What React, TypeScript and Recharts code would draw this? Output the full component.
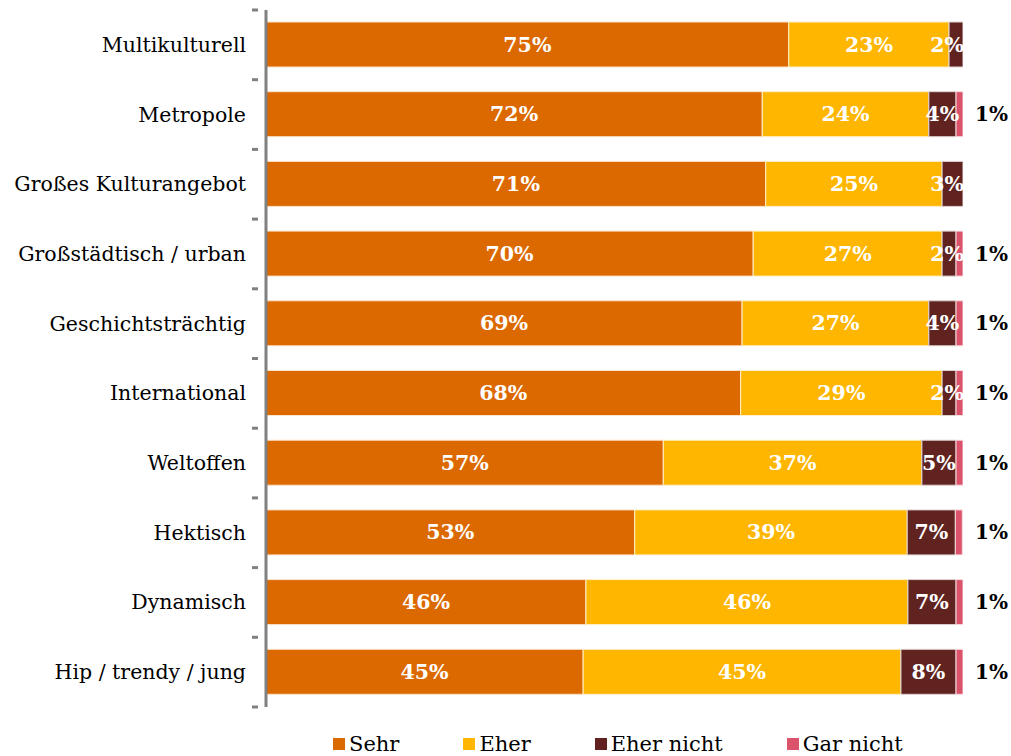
import { BarChart, Bar, XAxis, YAxis } from 'recharts';

// Category labels (top to bottom)
const categories = [
  'Multikulturell',
  'Metropole',
  'Großes Kulturangebot',
  'Großstädtisch / urban',
  'Geschichtsträchtig',
  'International',
  'Weltoffen',
  'Hektisch',
  'Dynamisch',
  'Hip / trendy / jung',
];

// Segment shares
const sehr = [75.0, 71.2, 71.7, 69.9, 68.3, 68.1, 57.0, 52.9, 45.9, 45.5];
const eher = [23.0, 23.9, 25.3, 27.1, 26.8, 28.9, 37.1, 39.1, 46.2, 45.6];
const eherNicht = [2.0, 3.9, 3.0, 2.0, 3.9, 2.0, 4.9, 6.9, 6.9, 7.9];
const garNicht = [0, 1.0, 0, 1.0, 1.0, 1.0, 1.0, 1.0, 1.0, 1.0];

// Printed labels
const sehrLabels = ['75%', '72%', '71%', '70%', '69%', '68%', '57%', '53%', '46%', '45%'];
const eherLabels = ['23%', '24%', '25%', '27%', '27%', '29%', '37%', '39%', '46%', '45%'];
const eherNichtLabels = ['2%', '4%', '3%', '2%', '4%', '2%', '5%', '7%', '7%', '8%'];
const garNichtLabels = ['', '1%', '', '1%', '1%', '1%', '1%', '1%', '1%', '1%'];

const seriesNames = ['Sehr', 'Eher', 'Eher nicht', 'Gar nicht'];
const COLORS = ['#DC6900', '#FFB600', '#602320', '#DB536A'];

const data = categories.map((name, i) => ({
  name,
  sehr: sehr[i],
  eher: eher[i],
  eherNicht: eherNicht[i],
  garNicht: garNicht[i],
}));

const FONT = '"DejaVu Serif", Georgia, serif';
const W = 1011;
const H = 720;
const MARGIN = { top: 10, right: 48, bottom: 13, left: 0 };
const AXIS_W = 266;
const PLOT_RIGHT = W - MARGIN.right;
const BAND = (H - MARGIN.top - MARGIN.bottom) / categories.length;

// zero-width bars are skipped, so find the row from the bar's position
const rowOf = (y: number, height: number) => Math.floor((y + height / 2 - MARGIN.top) / BAND);

function CategoryTick(props: any) {
  const { x, y, payload, index } = props;
  return (
    <g>
      <line x1={x - 6} x2={x} y1={y - BAND / 2} y2={y - BAND / 2} stroke="#808080" strokeWidth={3} />
      {index === categories.length - 1 && (
        <line x1={x - 6} x2={x} y1={y + BAND / 2} y2={y + BAND / 2} stroke="#808080" strokeWidth={3} />
      )}
      <text x={x - 12} y={y} dy={7} textAnchor="end" fill="#000" fontSize={20.5} fontFamily={FONT}>
        {payload.value}
      </text>
    </g>
  );
}

const inside = (labels: string[], clamp = false) => (props: any) => {
  const { x, y, width, height } = props;
  const text = labels[rowOf(y, height)];
  if (!text) return null;
  const tw = text.length * 16;
  let cx = x + width / 2;
  if (clamp) cx = Math.min(cx, PLOT_RIGHT - tw / 2);
  return (
    <text x={cx} y={y + height / 2} dy={7} textAnchor="middle" fill="#fff" fontSize={20.5} fontWeight="bold" fontFamily={FONT}>
      {text}
    </text>
  );
};

const outside = (labels: string[]) => (props: any) => {
  const { y, height } = props;
  const text = labels[rowOf(y, height)];
  if (!text) return null;
  return (
    <text x={PLOT_RIGHT + 12} y={y + height / 2} dy={7} textAnchor="start" fill="#000" fontSize={20} fontWeight="bold" fontFamily={FONT}>
      {text}
    </text>
  );
};

export default function App() {
  return (
    <div style={{ position: 'absolute', left: 0, top: 0, width: W, height: 756, background: '#fff', overflow: 'hidden' }}>
      <BarChart width={W} height={H} data={data} layout="vertical" margin={MARGIN} barSize={45}>
        <XAxis type="number" domain={[0, 100]} allowDataOverflow hide />
        <YAxis
          type="category"
          dataKey="name"
          width={AXIS_W}
          axisLine={{ stroke: '#808080', strokeWidth: 3 }}
          tickLine={false}
          tick={<CategoryTick />}
          interval={0}
        />
        <Bar dataKey="sehr" stackId="a" fill={COLORS[0]} stroke="#fbe3cc" strokeWidth={1} isAnimationActive={false} label={inside(sehrLabels)} />
        <Bar dataKey="eher" stackId="a" fill={COLORS[1]} stroke="#fff0cc" strokeWidth={1} isAnimationActive={false} label={inside(eherLabels)} />
        <Bar dataKey="eherNicht" stackId="a" fill={COLORS[2]} stroke="#dfd3d2" strokeWidth={1} isAnimationActive={false} label={inside(eherNichtLabels, true)} />
        <Bar dataKey="garNicht" stackId="a" fill={COLORS[3]} stroke="#f8dde1" strokeWidth={1} isAnimationActive={false} label={outside(garNichtLabels)} />
      </BarChart>
      <div style={{ position: 'absolute', top: 731, left: 333, display: 'flex', gap: 64, fontFamily: FONT, fontSize: 21, color: '#000', lineHeight: '26px' }}>
        {seriesNames.map((n, i) => (
          <div key={n} style={{ display: 'flex', alignItems: 'center' }}>
            <span style={{ display: 'inline-block', width: 12, height: 12, background: COLORS[i], marginRight: 4 }} />
            <span>{n}</span>
          </div>
        ))}
      </div>
    </div>
  );
}
